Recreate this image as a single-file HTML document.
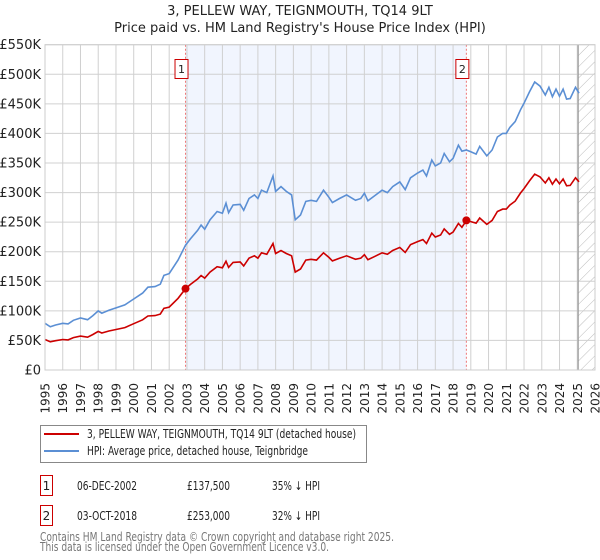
<!DOCTYPE html>
<html><head><meta charset="utf-8"><style>
body{margin:0;background:#fff;width:600px;height:560px;overflow:hidden;font-family:"DejaVu Sans","Liberation Sans",sans-serif}
svg{display:block}
text{font-family:"DejaVu Sans","Liberation Sans",sans-serif;fill:#222}
</style></head><body>
<svg id="chart" width="600" height="560">
<defs><pattern id="hatch" width="8" height="8" patternUnits="userSpaceOnUse" patternTransform="rotate(45)"><line x1="0" y1="0" x2="0" y2="8" stroke="#bbb" stroke-width="1"/></pattern></defs>
<text x="300" y="15" text-anchor="middle" font-size="13">3, PELLEW WAY, TEIGNMOUTH, TQ14 9LT</text>
<text x="300" y="32" text-anchor="middle" font-size="13">Price paid vs. HM Land Registry's House Price Index (HPI)</text>
<g id="plot"></g>
<g>
<rect x="40.5" y="425.5" width="326" height="37" fill="#fff" stroke="#888"/>
<line x1="44" y1="434" x2="79" y2="434" stroke="#cc0000" stroke-width="2"/>
<text x="87" y="438" font-size="12" textLength="269" lengthAdjust="spacingAndGlyphs">3, PELLEW WAY, TEIGNMOUTH, TQ14 9LT (detached house)</text>
<line x1="44" y1="451" x2="79" y2="451" stroke="#5b8fd4" stroke-width="2"/>
<text x="87" y="455" font-size="12" textLength="221" lengthAdjust="spacingAndGlyphs">HPI: Average price, detached house, Teignbridge</text>
</g>
<g>
<rect x="40.5" y="475.5" width="12" height="20" fill="#fff" stroke="#cc0000"/>
<text x="46.5" y="490" text-anchor="middle" font-size="12">1</text>
<text x="77" y="490" font-size="12" textLength="60" lengthAdjust="spacingAndGlyphs">06-DEC-2002</text>
<text x="187" y="490" font-size="12" textLength="43" lengthAdjust="spacingAndGlyphs">£137,500</text>
<text x="272" y="490" font-size="12" textLength="48" lengthAdjust="spacingAndGlyphs">35% ↓ HPI</text>
<rect x="40.5" y="505.5" width="12" height="20" fill="#fff" stroke="#cc0000"/>
<text x="46.5" y="520" text-anchor="middle" font-size="12">2</text>
<text x="77" y="520" font-size="12" textLength="60" lengthAdjust="spacingAndGlyphs">03-OCT-2018</text>
<text x="187" y="520" font-size="12" textLength="43" lengthAdjust="spacingAndGlyphs">£253,000</text>
<text x="272" y="520" font-size="12" textLength="48" lengthAdjust="spacingAndGlyphs">32% ↓ HPI</text>
</g>
<text x="40" y="541" font-size="12" textLength="354" lengthAdjust="spacingAndGlyphs" style="fill:#777">Contains HM Land Registry data © Crown copyright and database right 2025.</text>
<text x="40" y="551" font-size="12" textLength="289" lengthAdjust="spacingAndGlyphs" style="fill:#777">This data is licensed under the Open Government Licence v3.0.</text>
</svg>
<script>
const dates=[1995.0,1995.3,1995.6,1996.0,1996.3,1996.6,1997.0,1997.4,1997.7,1998.0,1998.2,1998.6,1999.0,1999.5,2000.0,2000.5,2000.8,2001.2,2001.5,2001.7,2002.0,2002.5,2002.92,2003.2,2003.6,2003.8,2004.0,2004.3,2004.7,2005.0,2005.2,2005.35,2005.6,2006.0,2006.2,2006.5,2006.8,2007.0,2007.2,2007.5,2007.85,2008.0,2008.3,2008.6,2008.9,2009.1,2009.4,2009.7,2010.0,2010.3,2010.7,2011.0,2011.2,2011.6,2012.0,2012.5,2012.8,2013.0,2013.2,2013.6,2014.0,2014.3,2014.6,2015.0,2015.3,2015.6,2016.0,2016.3,2016.5,2016.8,2017.0,2017.3,2017.5,2017.8,2018.0,2018.3,2018.5,2018.75,2019.0,2019.3,2019.5,2019.9,2020.2,2020.5,2020.8,2021.0,2021.2,2021.5,2021.8,2022.0,2022.3,2022.6,2022.9,2023.2,2023.4,2023.6,2023.8,2024.0,2024.2,2024.4,2024.6,2024.9,2025.1];
const hpi=[79,73,76,79,78,84,88,85,92,100,96,101,105,110,120,130,140,141,145,160,163,186,211,222,236,245,238,254,268,265,282,266,279,280,270,290,296,290,304,300,328,302,310,302,296,254,262,285,287,285,304,292,283,290,296,287,290,299,286,295,304,300,310,318,305,325,333,338,328,355,345,350,366,352,358,380,370,372,369,365,378,362,372,394,400,400,410,420,440,451,470,487,480,465,478,462,475,463,475,458,459,478,468];
const price=[51.5,47.6,49.6,51.5,50.9,54.8,57.4,55.4,60,65.2,62.6,65.9,68.5,71.7,78.2,84.8,91.3,91.9,94.5,104.3,106.3,121.3,137.5,144.7,153.9,159.7,155.2,165.6,174.7,172.8,183.9,173.4,181.9,182.6,176,189.1,193,189.1,198.2,195.6,213.9,196.9,202.1,196.9,193,165.6,170.8,185.8,187.1,185.8,198.2,190.4,184.5,189.1,193,187.1,189.1,195,186.5,192.3,198.2,195.6,202.1,207.3,198.9,211.9,217.1,220.4,213.9,231.5,224.9,228.2,238.6,229.5,233.4,247.8,241.2,253,250.9,248.2,257,246.2,253,267.9,272,272,278.8,285.6,299.2,306.7,319.6,331.2,326.4,316.2,325,314.2,323,314.8,323,311.4,312.1,325,318.2];
const saleDates=[2002.92,2018.75];
const salePrices=[137.5,253];
const yTicks=[0,50,100,150,200,250,300,350,400,450,500,550];
const yLabels=["£0","£50K","£100K","£150K","£200K","£250K","£300K","£350K","£400K","£450K","£500K","£550K"];
const xYears=[1995,1996,1997,1998,1999,2000,2001,2002,2003,2004,2005,2006,2007,2008,2009,2010,2011,2012,2013,2014,2015,2016,2017,2018,2019,2020,2021,2022,2023,2024,2025,2026];
const dataEnd=2025.05;

const L=45,R=595,T=44.7,B=370;
const x=v=>L+(v-1995)/(2026-1995)*(R-L);
const y=v=>B-v/550*(B-T);
const NS="http://www.w3.org/2000/svg";
const g=document.getElementById('plot');
function mk(tag,attrs,parent){const e=document.createElementNS(NS,tag);for(const k in attrs)e.setAttribute(k,attrs[k]);(parent||g).appendChild(e);return e;}

let r=mk('rect',{x:x(saleDates[0]),y:T,width:x(saleDates[1])-x(saleDates[0]),height:B-T,fill:'#f1f5fe'});


r=mk('rect',{x:x(dataEnd),y:T,width:R-x(dataEnd),height:B-T,fill:'url(#hatch)'});



xYears.forEach(yr=>{
  const l=mk('line',{x1:x(yr),x2:x(yr),y1:T,y2:B,stroke:'#d0d0d0','stroke-width':1});
  
  
  const t=mk('text',{x:0,y:0,'font-size':12,'text-anchor':'end',transform:`translate(${x(yr)+4.5},383) rotate(-90)`});
  t.textContent=yr;
  
  
});
yTicks.forEach((v,i)=>{
  const l=mk('line',{x1:L,x2:R,y1:y(v),y2:y(v),stroke:'#d0d0d0','stroke-width':1});
  
  
  const t=mk('text',{x:41,y:y(v)+4.5,'font-size':13,'text-anchor':'end'});
  t.textContent=yLabels[i];
  
  
});
let vl=mk('line',{x1:x(dataEnd),x2:x(dataEnd),y1:T,y2:B,stroke:'#999','stroke-width':1.2});



saleDates.forEach((d,i)=>{
  const l=mk('line',{x1:x(d),x2:x(d),y1:T,y2:B,stroke:'#e77','stroke-width':1,'stroke-dasharray':'2,2'});
  
  
  const bx=mk('rect',{x:x(d)-10.5,y:59.5,width:13,height:19,fill:'#fff',stroke:'#cc0000'});
  
  
  const t=mk('text',{x:x(d)-4,y:73,'font-size':11,'text-anchor':'middle'});
  t.textContent=i+1;
  
  
});

const path=arr=>arr.map((v,i)=>(i?'L':'M')+x(dates[i]).toFixed(1)+','+y(v).toFixed(1)).join('');
let hp=mk('path',{d:path(hpi),fill:'none',stroke:'#5b8fd4','stroke-width':1.6});


let pp=mk('path',{d:path(price),fill:'none',stroke:'#cc0000','stroke-width':1.6});


saleDates.forEach((d,i)=>{
  const c=mk('circle',{cx:x(d),cy:y(salePrices[i]),r:4,fill:'#cc0000'});
  
  
});
let fr=mk('rect',{x:L,y:T,width:R-L,height:B-T,fill:'none',stroke:'#ccc'});


</script>
</body></html>
